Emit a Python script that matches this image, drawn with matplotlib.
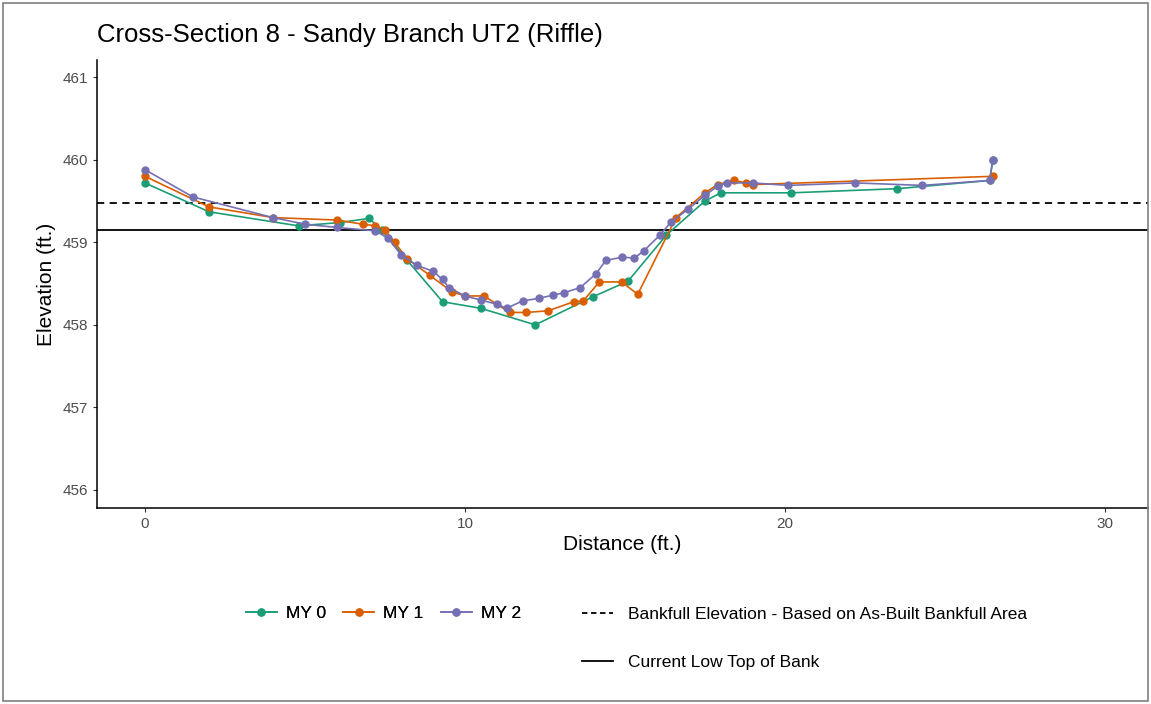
"""
Cross-section 8 - Sandy Branch UT2 (riffle) survey plot
"""

import matplotlib.pyplot as plt
from matplotlib.lines import Line2D
from matplotlib.patches import Rectangle

plt.rcParams['font.family'] = ['Liberation Sans', 'DejaVu Sans']

# survey data (distance ft, elevation ft)
my0_x = [0.0, 2.0, 4.8, 6.1, 7.0, 7.4, 8.2, 9.3, 10.5, 12.2, 14.0, 15.1, 16.3, 17.5, 18.0, 20.2, 23.5, 26.4, 26.5]
my0_y = [459.72, 459.37, 459.20, 459.24, 459.29, 459.15, 458.78, 458.28, 458.20, 458.00, 458.34, 458.53, 459.09, 459.50, 459.60, 459.60, 459.65, 459.75, 460.00]

my1_x = [0.0, 2.0, 4.0, 6.0, 6.8, 7.2, 7.5, 7.8, 8.2, 8.9, 9.6, 10.0, 10.6, 11.4, 11.9, 12.6, 13.4, 13.7, 14.2, 14.9, 15.4, 16.6, 17.5, 17.9, 18.4, 18.8, 19.0, 26.5]
my1_y = [459.80, 459.43, 459.30, 459.27, 459.22, 459.20, 459.15, 459.00, 458.80, 458.60, 458.40, 458.35, 458.35, 458.15, 458.15, 458.17, 458.28, 458.29, 458.52, 458.52, 458.37, 459.30, 459.60, 459.70, 459.75, 459.72, 459.70, 459.80]

my2_x = [0.0, 1.5, 4.0, 5.0, 6.0, 7.2, 7.6, 8.0, 8.5, 9.0, 9.3, 9.5, 10.0, 10.5, 11.0, 11.3, 11.8, 12.3, 12.75, 13.1, 13.6, 14.1, 14.4, 14.9, 15.3, 15.6, 16.1, 16.45, 16.97, 17.5, 17.9, 18.2, 19.0, 20.1, 22.2, 24.3, 26.4, 26.5]
my2_y = [459.88, 459.55, 459.30, 459.22, 459.18, 459.14, 459.05, 458.85, 458.72, 458.65, 458.55, 458.45, 458.35, 458.30, 458.25, 458.20, 458.29, 458.32, 458.36, 458.39, 458.45, 458.62, 458.78, 458.82, 458.81, 458.90, 459.09, 459.25, 459.40, 459.57, 459.68, 459.72, 459.72, 459.69, 459.72, 459.69, 459.75, 460.00]

bankfull = 459.475
low_tob = 459.148

series = [('MY 0', my0_x, my0_y, '#1B9E77'),
          ('MY 1', my1_x, my1_y, '#D95F02'),
          ('MY 2', my2_x, my2_y, '#7570B3')]


def main():
    W, H = 1151, 704
    fig = plt.figure(figsize=(W / 100, H / 100), dpi=100)
    fig.patches.append(Rectangle((0.003, 0.004), 0.994, 0.992, transform=fig.transFigure,
                                 fill=False, edgecolor='#7f7f7f', linewidth=1.2))
    ax = fig.add_axes([97 / W, 1 - 508 / H, (1148 - 97) / W, (508 - 60) / H])

    ax.axhline(bankfull, color='black', linestyle=(0, (4, 3)), linewidth=1.3)
    ax.axhline(low_tob, color='black', linewidth=1.3)

    handles = []
    for name, x, y, c in series:
        h, = ax.plot(x, y, color=c, marker='o', markersize=5, linewidth=1.2, label=name)
        handles.append(h)

    ax.set_xlim(-1.5, 31.35)
    ax.set_ylim(455.78, 461.21)
    ax.set_xticks([0, 10, 20, 30])
    ax.set_yticks([456, 457, 458, 459, 460, 461])
    for s in ['top', 'right']:
        ax.spines[s].set_visible(False)
    for s in ['left', 'bottom']:
        ax.spines[s].set_linewidth(1.1)
    ax.tick_params(length=3, width=0.8, colors='#333333', labelsize=11, labelcolor='#4D4D4D')

    ax.set_xlabel('Distance (ft.)', fontsize=15, labelpad=3)
    ax.set_ylabel('Elevation (ft.)', fontsize=15, labelpad=5)
    fig.text(97 / W, 1 - 35 / H, 'Cross-Section 8 - Sandy Branch UT2 (Riffle)',
             fontsize=18.5, va='center', ha='left')

    leg1 = fig.legend(handles=handles, loc='center left', bbox_to_anchor=(230 / W, 1 - 613 / H),
                      ncol=3, frameon=False, fontsize=12.5, handlelength=1.8,
                      columnspacing=1.0, handletextpad=0.5)
    fig.add_artist(leg1)
    lt = [Line2D([], [], color='black', linestyle=(0, (3, 2)), linewidth=1.3),
          Line2D([], [], color='black', linewidth=1.3)]
    fig.legend(handles=lt,
               labels=['Bankfull Elevation - Based on As-Built Bankfull Area', 'Current Low Top of Bank'],
               loc='upper left', bbox_to_anchor=(566 / W, 1 - 591 / H), frameon=False,
               fontsize=12.5, handlelength=1.8, labelspacing=1.9, handletextpad=0.9)

    fig.savefig('out.png', dpi=100)


if __name__ == "__main__":
    main()
